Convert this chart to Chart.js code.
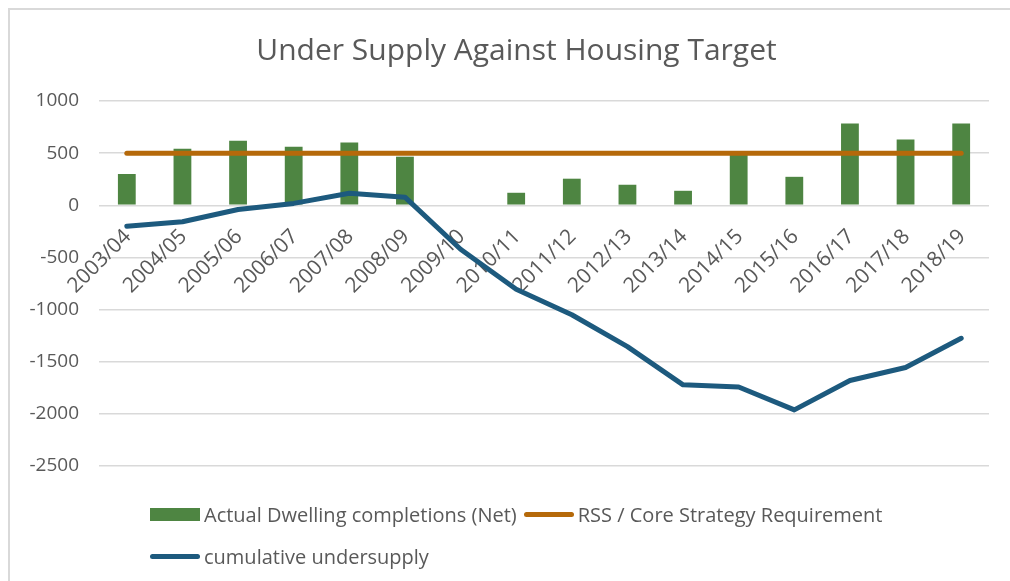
<!DOCTYPE html>
<html>
<head>
<meta charset="utf-8">
<title>Under Supply Against Housing Target</title>
<script src="https://cdn.jsdelivr.net/npm/chart.js@4.4.1/dist/chart.umd.min.js"></script>
<style>
  body { margin: 0; background: #fff; }
  #wrap { position: relative; width: 1010px; height: 581px; overflow: hidden; }
  #frame { position: absolute; left: 8px; top: 8px; right: -2px; bottom: -2px;
           border-left: 2px solid #d9d9d9; border-top: 2px solid #d9d9d9; pointer-events: none; }
  #legend { position: absolute; left: 150px; top: 500px; font-family: 'Open Sans', sans-serif;
            font-size: 20px; color: #595959; }
  .row { display: flex; align-items: center; height: 28px; margin-bottom: 14px; white-space: nowrap; }
  .item { display: flex; align-items: center; margin-right: 7px; }
  .sw { display: inline-block; width: 50px; margin-right: 4px; }
  .box { height: 13px; }
  .ln { height: 5px; border-radius: 3px; }
</style>
</head>
<body>
<div id="wrap">
  <canvas id="housingChart" width="1010" height="581"></canvas>
  <div id="frame"></div>
  <div id="legend"></div>
</div>
<script>
// values
const categories = ['2003/04', '2004/05', '2005/06', '2006/07', '2007/08', '2008/09', '2009/10', '2010/11',
                    '2011/12', '2012/13', '2013/14', '2014/15', '2015/16', '2016/17', '2017/18', '2018/19'];
const completions = [300, 543, 620, 562, 601, 466, 0, 120, 255, 197, 139, 495, 273, 784, 630, 784];
const requirement = [500, 500, 500, 500, 500, 500, 500, 500, 500, 500, 500, 500, 500, 500, 500, 500];
const cumulative = [-202, -158, -40, 18, 115, 78, -422, -805, -1050, -1355, -1722, -1742, -1962, -1680, -1555, -1275];
const yTickValues = [1000, 500, 0, -500, -1000, -1500, -2000, -2500];

const seriesNames = ['Actual Dwelling completions (Net)', 'RSS / Core Strategy Requirement', 'cumulative undersupply'];
const GREEN = '#4e8542';
const ORANGE = '#b5690a';
const BLUE = '#1d5a7e';
const TEXT = '#595959';

Chart.defaults.font.family = "'Open Sans', sans-serif";
Chart.defaults.color = TEXT;

// nudge the title a little to the right, the original isn't centred on the canvas
const titleNudge = {
    id: 'titleNudge',
    afterLayout(chart) {
        if (chart.titleBlock) {
            chart.titleBlock.left += 22;
            chart.titleBlock.right += 22;
        }
    }
};

const ctx = document.getElementById('housingChart').getContext('2d');

const housingChart = new Chart(ctx, {
    data: {
        labels: categories,
        datasets: [
            {
                type: 'bar',
                label: seriesNames[0],
                data: completions,
                backgroundColor: GREEN,
                categoryPercentage: 1,
                barPercentage: 0.32,
                order: 3
            },
            {
                type: 'line',
                label: seriesNames[1],
                data: requirement,
                borderColor: ORANGE,
                borderWidth: 5,
                borderCapStyle: 'round',
                pointRadius: 0,
                order: 2
            },
            {
                type: 'line',
                label: seriesNames[2],
                data: cumulative,
                borderColor: BLUE,
                borderWidth: 5,
                borderCapStyle: 'round',
                borderJoinStyle: 'round',
                pointRadius: 0,
                tension: 0,
                order: 1
            }
        ]
    },
    options: {
        responsive: false,
        animation: false,
        layout: { padding: { top: 20, right: 21, bottom: 115, left: 0 } },
        plugins: {
            legend: { display: false },
            tooltip: { enabled: false },
            title: {
                display: true,
                text: 'Under Supply Against Housing Target',
                color: TEXT,
                font: { size: 30, weight: 'normal' },
                padding: { top: 13, bottom: 32 }
            }
        },
        scales: {
            x: {
                position: { y: 0 },   // category axis crosses at zero like Excel
                grid: { display: false, drawTicks: false },
                border: { display: false },
                ticks: {
                    autoSkip: false,
                    minRotation: 45,
                    maxRotation: 45,
                    padding: 19,
                    labelOffset: 1,
                    color: TEXT,
                    font: { size: 21 }
                }
            },
            y: {
                min: -2500,
                max: 1000,
                afterBuildTicks: (scale) => {
                    scale.ticks = yTickValues.map(v => ({ value: v }));
                },
                afterFit: (scale) => { scale.width = 99; },
                grid: { color: '#d9d9d9', lineWidth: 1.5, drawTicks: false },
                border: { display: false },
                ticks: {
                    padding: 20,
                    color: TEXT,
                    font: { size: 19 },
                    callback: (v) => String(v)
                }
            }
        }
    },
    plugins: [titleNudge]
});

// html legend laid out like the Excel one (two rows, left aligned)
const legendRows = [
    [{ name: seriesNames[0], color: GREEN, kind: 'box' }, { name: seriesNames[1], color: ORANGE, kind: 'ln' }],
    [{ name: seriesNames[2], color: BLUE, kind: 'ln' }]
];
const legendEl = document.getElementById('legend');
legendRows.forEach(row => {
    const rowEl = document.createElement('div');
    rowEl.className = 'row';
    row.forEach(it => {
        const itemEl = document.createElement('span');
        itemEl.className = 'item';
        const sw = document.createElement('span');
        sw.className = 'sw ' + it.kind;
        sw.style.background = it.color;
        const txt = document.createElement('span');
        txt.textContent = it.name;
        itemEl.appendChild(sw);
        itemEl.appendChild(txt);
        rowEl.appendChild(itemEl);
    });
    legendEl.appendChild(rowEl);
});
</script>
</body>
</html>
